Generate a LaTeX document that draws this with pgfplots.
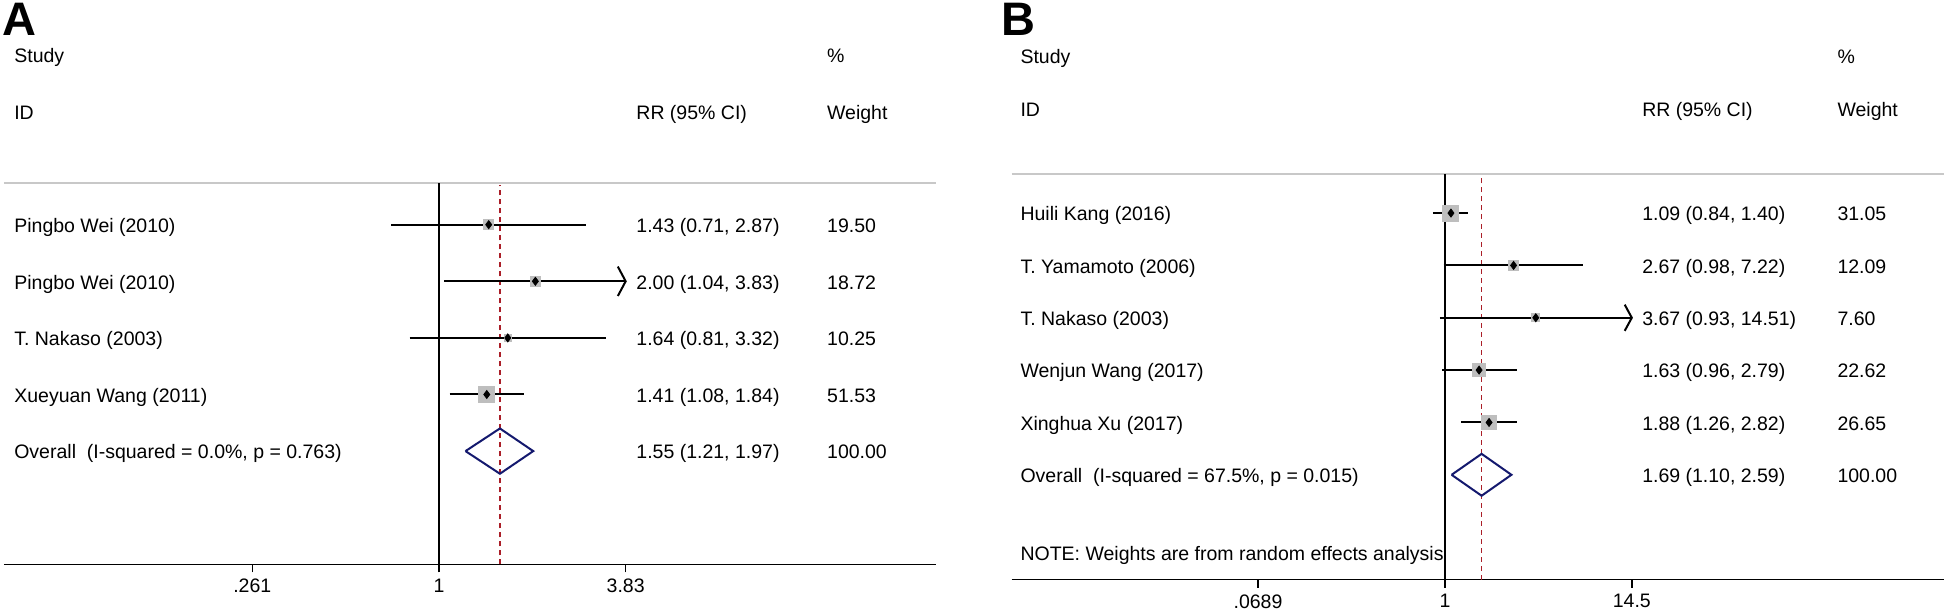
\documentclass[border=0pt]{standalone}
\usepackage{pgfplots}
\pgfplotsset{compat=1.18}
\usepackage{fontspec}
\setmainfont{Liberation Sans}
\definecolor{sqgray}{RGB}{190,190,190}
\definecolor{sepgray}{RGB}{200,200,200}
\definecolor{refred}{RGB}{170,30,40}
\definecolor{ovnavy}{RGB}{20,25,110}
\newcommand{\fs}{\fontsize{9.75}{12}\selectfont}
\pgfplotsset{
  fplot/.style={
    scale only axis, clip=false, anchor=south west,
    axis x line*=bottom, axis y line=none,
    x axis line style={-, line width=0.7pt, black},
    tick align=outside, major tick length=4pt,
    xtick style={line width=0.7pt, black},
    xticklabel style={font=\fs},
    /pgf/number format/assume math mode=true,
    ymin=0,
  },
  ci/.style={color=black, line width=1pt, mark=none},
  sq/.style={only marks, mark=square*, color=sqgray, mark options={draw=sqgray, fill=sqgray, line width=0pt}},
  pt/.style={only marks, mark=diamond*, mark size=2pt, color=black, mark options={draw=black, fill=black}},
  refl/.style={color=refred, dash pattern=on 2.5pt off 2pt, line width=0.6pt, mark=none},
  ovl/.style={color=ovnavy, line width=1pt, mark=none, line join=miter},
}
\tikzset{lbl/.style={anchor=base west, inner sep=0pt, font=\fs, yshift=-3.9pt}}
\begin{document}
\begin{tikzpicture}
\useasboundingbox (0,0) rectangle (973pt,305.5pt);
\node[anchor=north west, inner sep=0pt, font=\fontsize{23.5}{28}\selectfont\bfseries] at (1pt,304pt) {A};
\node[anchor=north west, inner sep=0pt, font=\fontsize{23.5}{28}\selectfont\bfseries] at (500.3pt,304pt) {B};

% ---------------- Panel A ----------------
\begin{axis}[xmode=log, fplot, at={(2pt,23.35pt)}, width=466pt, height=190.8pt,
  xmin=0.04376, xmax=35.7, ymax=6.742, minor xtick={},
  xtick={0.261,1,3.83}, xticklabels={.261,1,3.83}]
  \draw[sepgray, line width=1pt] (rel axis cs:0,1) -- (rel axis cs:1,1);
  \addplot[color=black, line width=0.75pt, mark=none] coordinates {(1,0) (1,6.742)};
  % weight squares
  \addplot[sq, mark size=2.46pt] coordinates {(1.43,6)};
  \addplot[sq, mark size=2.41pt] coordinates {(2.00,5)};
  \addplot[sq, mark size=1.785pt] coordinates {(1.64,4)};
  \addplot[sq, mark size=4.0pt] coordinates {(1.41,3)};
  % reference line at overall estimate
  \addplot[refl] coordinates {(1.55,0) (1.55,6.7)};
  % confidence intervals
  \addplot[ci] coordinates {(0.71,6) (2.87,6)};
  \addplot[ci] coordinates {(1.04,5) (3.83,5)};
  \addplot[ci] coordinates {(3.62,5.26) (3.83,5) (3.62,4.74)};
  \addplot[ci] coordinates {(0.81,4) (3.32,4)};
  \addplot[ci] coordinates {(1.08,3) (1.84,3)};
  % point estimates
  \addplot[pt] coordinates {(1.43,6) (2.00,5) (1.64,4) (1.41,3)};
  % overall
  \addplot[ovl] coordinates {(1.21,2) (1.55,2.4) (1.97,2) (1.55,1.6) (1.21,2)};
  % text
  \node[lbl] at (axis cs:0.0470,9) {Study};
  \node[lbl] at (axis cs:0.0470,8) {ID};
  \node[lbl] at (axis cs:4.126,8) {RR (95\% CI)};
  \node[lbl] at (axis cs:16.27,9) {\%};
  \node[lbl] at (axis cs:16.27,8) {Weight};
  \node[lbl] at (axis cs:0.0470,6) {Pingbo Wei (2010)};
  \node[lbl] at (axis cs:0.0470,5) {Pingbo Wei (2010)};
  \node[lbl] at (axis cs:0.0470,4) {T. Nakaso (2003)};
  \node[lbl] at (axis cs:0.0470,3) {Xueyuan Wang (2011)};
  \node[lbl] at (axis cs:0.0470,2) {Overall\ \ (I-squared = 0.0\%, p = 0.763)};
  \node[lbl] at (axis cs:4.126,6) {1.43 (0.71, 2.87)};
  \node[lbl] at (axis cs:4.126,5) {2.00 (1.04, 3.83)};
  \node[lbl] at (axis cs:4.126,4) {1.64 (0.81, 3.32)};
  \node[lbl] at (axis cs:4.126,3) {1.41 (1.08, 1.84)};
  \node[lbl] at (axis cs:4.126,2) {1.55 (1.21, 1.97)};
  \node[lbl] at (axis cs:16.27,6) {19.50};
  \node[lbl] at (axis cs:16.27,5) {18.72};
  \node[lbl] at (axis cs:16.27,4) {10.25};
  \node[lbl] at (axis cs:16.27,3) {51.53};
  \node[lbl] at (axis cs:16.27,2) {100.00};
\end{axis}

% ---------------- Panel B ----------------
\begin{axis}[xmode=log, fplot, at={(505.75pt,15.75pt)}, width=466pt, height=202.75pt,
  xmin=0.002024, xmax=1255, ymax=7.746, minor xtick={},
  xtick={0.0689,1,14.5}, xticklabels={.0689,1,14.5}]
  \draw[sepgray, line width=1pt] (rel axis cs:0,1) -- (rel axis cs:1,1);
  \addplot[color=black, line width=0.75pt, mark=none] coordinates {(1,0) (1,7.746)};
  % weight squares
  \addplot[sq, mark size=4.0pt] coordinates {(1.09,7)};
  \addplot[sq, mark size=2.50pt] coordinates {(2.67,6)};
  \addplot[sq, mark size=1.98pt] coordinates {(3.67,5)};
  \addplot[sq, mark size=3.41pt] coordinates {(1.63,4)};
  \addplot[sq, mark size=3.71pt] coordinates {(1.88,3)};
  % reference line at overall estimate
  \addplot[refl] coordinates {(1.69,0) (1.69,7.7)};
  % confidence intervals
  \addplot[ci] coordinates {(0.84,7) (1.40,7)};
  \addplot[ci] coordinates {(0.98,6) (7.22,6)};
  \addplot[ci] coordinates {(0.93,5) (14.5,5)};
  \addplot[ci] coordinates {(13.1,5.25) (14.5,5) (13.1,4.75)};
  \addplot[ci] coordinates {(0.96,4) (2.79,4)};
  \addplot[ci] coordinates {(1.26,3) (2.82,3)};
  % point estimates
  \addplot[pt] coordinates {(1.09,7) (2.67,6) (3.67,5) (1.63,4) (1.88,3)};
  % overall
  \addplot[ovl] coordinates {(1.10,2) (1.69,2.4) (2.59,2) (1.69,1.6) (1.10,2)};
  % text
  \node[lbl] at (axis cs:0.00229,10) {Study};
  \node[lbl] at (axis cs:0.00229,9) {ID};
  \node[lbl] at (axis cs:16.74,9) {RR (95\% CI)};
  \node[lbl] at (axis cs:273.8,10) {\%};
  \node[lbl] at (axis cs:273.8,9) {Weight};
  \node[lbl] at (axis cs:0.00229,7) {Huili Kang (2016)};
  \node[lbl] at (axis cs:0.00229,6) {T. Yamamoto (2006)};
  \node[lbl] at (axis cs:0.00229,5) {T. Nakaso (2003)};
  \node[lbl] at (axis cs:0.00229,4) {Wenjun Wang (2017)};
  \node[lbl] at (axis cs:0.00229,3) {Xinghua Xu (2017)};
  \node[lbl] at (axis cs:0.00229,2) {Overall\ \ (I-squared = 67.5\%, p = 0.015)};
  \node[lbl] at (axis cs:0.00229,0.52) {NOTE: Weights are from random effects analysis};
  \node[lbl] at (axis cs:16.74,7) {1.09 (0.84, 1.40)};
  \node[lbl] at (axis cs:16.74,6) {2.67 (0.98, 7.22)};
  \node[lbl] at (axis cs:16.74,5) {3.67 (0.93, 14.51)};
  \node[lbl] at (axis cs:16.74,4) {1.63 (0.96, 2.79)};
  \node[lbl] at (axis cs:16.74,3) {1.88 (1.26, 2.82)};
  \node[lbl] at (axis cs:16.74,2) {1.69 (1.10, 2.59)};
  \node[lbl] at (axis cs:273.8,7) {31.05};
  \node[lbl] at (axis cs:273.8,6) {12.09};
  \node[lbl] at (axis cs:273.8,5) {7.60};
  \node[lbl] at (axis cs:273.8,4) {22.62};
  \node[lbl] at (axis cs:273.8,3) {26.65};
  \node[lbl] at (axis cs:273.8,2) {100.00};
\end{axis}
\end{tikzpicture}
\end{document}
